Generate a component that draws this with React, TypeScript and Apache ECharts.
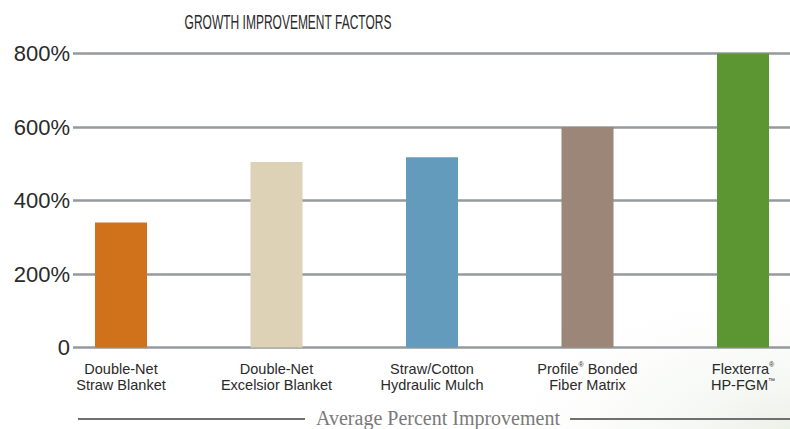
import React, { useEffect, useRef } from "react";
import * as echarts from "echarts";

const categories = [
  "Double-Net\nStraw Blanket",
  "Double-Net\nExcelsior Blanket",
  "Straw/Cotton\nHydraulic Mulch",
  "Profile{sup|®} Bonded\nFiber Matrix",
  "Flexterra{sup|®}\nHP-FGM{sup|™}",
];
const values = [340, 505, 518, 600, 800];
const barColors = ["#d0721c", "#ddd1b6", "#629bbb", "#9c8678", "#5c9632"];
const yTicks = [0, 200, 400, 600, 800];

const SANS = "'Liberation Sans', 'DejaVu Sans', sans-serif";

export default function App() {
  const ref = useRef<HTMLDivElement>(null);
  useEffect(() => {
    if (!ref.current) return;
    const chart = echarts.init(ref.current, null, { renderer: "svg" });
    const option = {
      animation: false,
      backgroundColor: "#ffffff",
      graphic: [
        {
          type: "rect",
          z: -10,
          shape: { x: 420, y: 250, width: 370, height: 179 },
          style: {
            fill: new echarts.graphic.RadialGradient(1, 1, 0.9, [
              { offset: 0, color: "rgba(200,215,190,0.35)" },
              { offset: 1, color: "rgba(255,255,255,0)" },
            ]),
          },
          silent: true,
        },
        {
          type: "text",
          x: 288,
          y: 22,
          scaleX: 0.6,
          style: {
            text: "GROWTH IMPROVEMENT FACTORS",
            font: `20px ${SANS}`,
            fill: "#2a2a2a",
            align: "center",
            verticalAlign: "middle",
          },
        },
        {
          type: "line",
          shape: { x1: 78, y1: 419, x2: 305, y2: 419 },
          style: { stroke: "#707070", lineWidth: 2 },
        },
        {
          type: "line",
          shape: { x1: 570, y1: 419, x2: 790, y2: 419 },
          style: { stroke: "#707070", lineWidth: 2 },
        },
        {
          type: "text",
          x: 438,
          y: 418,
          style: {
            text: "Average Percent Improvement",
            font: "20px 'Liberation Serif', 'DejaVu Serif', serif",
            fill: "#7a7a7a",
            align: "center",
            verticalAlign: "middle",
          },
        },
      ],
      grid: [
        { left: 73, right: 0, top: 53.5, bottom: 81.5, outerBoundsMode: "none" },
        { left: 43.25, width: 777.5, top: 53.5, bottom: 81.5, outerBoundsMode: "none", containLabel: false },
      ],
      xAxis: [
        { type: "category", gridIndex: 0, data: categories, show: false },
        {
          type: "category",
          gridIndex: 1,
          data: categories,
          axisLine: { show: false },
          axisTick: { show: false },
          axisLabel: {
            interval: 0,
            margin: 13,
            fontFamily: SANS,
            fontSize: 14.5,
            lineHeight: 16,
            color: "#2a2a2a",
            rich: {
              sup: {
                fontFamily: SANS,
                fontSize: 7,
                color: "#2a2a2a",
                verticalAlign: "top",
                padding: [0, 0, 6, 0],
              },
            },
          },
        },
      ],
      yAxis: [
        {
          type: "value",
          gridIndex: 0,
          min: 0,
          max: 800,
          interval: 200,
          axisLine: { show: false },
          axisTick: { show: false },
          splitLine: { lineStyle: { color: "#959a9e", width: 2.5 } },
          axisLabel: {
            margin: 3,
            fontFamily: SANS,
            fontSize: 22,
            color: "#2a2a2a",
            formatter: (v: number) => (yTicks.includes(v) && v !== 0 ? `${v}%` : "0"),
          },
        },
        {
          type: "value",
          gridIndex: 1,
          min: 0,
          max: 800,
          interval: 200,
          show: false,
          splitLine: { show: false },
        },
      ],
      series: [
        {
          type: "bar",
          xAxisIndex: 1,
          yAxisIndex: 1,
          barWidth: 52,
          z: 5,
          data: values.map((v, i) => ({ value: v, itemStyle: { color: barColors[i] } })),
        },
      ],
    };
    chart.setOption(option as any);
    return () => chart.dispose();
  }, []);
  return (
    <div
      ref={ref}
      style={{ position: "fixed", left: 0, top: 0, width: 790, height: 429 }}
    />
  );
}
